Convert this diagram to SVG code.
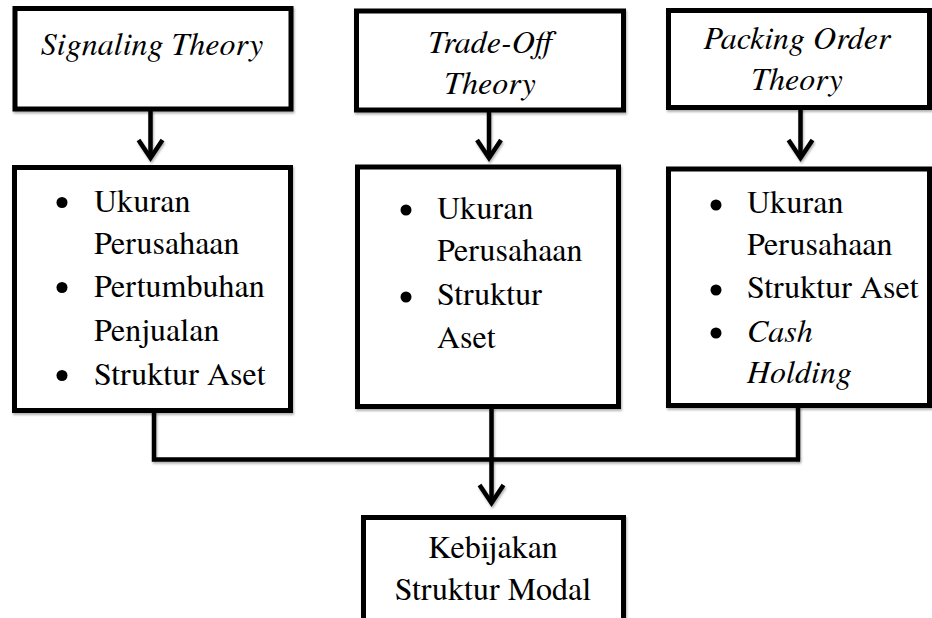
<svg xmlns="http://www.w3.org/2000/svg" width="932" height="618" viewBox="0 0 932 618">
<style>
  .box { fill: #ffffff; stroke: #000000; stroke-width: 5; filter: url(#sh); }
  .t { font-family: 'TeX Gyre Termes', 'FreeSerif', 'Liberation Serif', 'Times New Roman', serif; font-size: 32px; fill: #000000; }
  .i { font-style: italic; }
  .c { text-anchor: middle; }
  .bul { fill: #000000; }
  .wire { fill: none; stroke: #000000; stroke-width: 4.5; filter: url(#sh); }
</style>
<defs>
  <filter id="sh" filterUnits="userSpaceOnUse" x="0" y="0" width="932" height="618">
    <feDropShadow dx="1" dy="2" stdDeviation="1.2" flood-color="#000000" flood-opacity="0.3"/>
  </filter>
  <marker id="chev" markerUnits="userSpaceOnUse" viewBox="-30 -20 40 40" markerWidth="40" markerHeight="40" refX="0" refY="0" orient="auto" overflow="visible">
    <path d="M-18,-12 L0,0 L-18,12" fill="none" stroke="#000000" stroke-width="4.5" stroke-linejoin="miter"/>
  </marker>
</defs>
<rect width="932" height="618" fill="#ffffff"/>

<g id="connectors">
  <path class="wire" d="M150.5,110 V158" marker-end="url(#chev)"/>
  <path class="wire" d="M489,112 V158" marker-end="url(#chev)"/>
  <path class="wire" d="M800.5,108 V158" marker-end="url(#chev)"/>
  <path class="wire" d="M154,411 V459.5 H800"/>
  <path class="wire" d="M798,406 V459.5"/>
  <path class="wire" d="M491.5,407 V503" marker-end="url(#chev)"/>
</g>

<g id="signaling">
  <rect class="box" x="15" y="8.5" width="276" height="100.5"/>
  <text class="t i c" x="152" y="55">Signaling Theory</text>
</g>
<g id="tradeoff">
  <rect class="box" x="356.5" y="11" width="267" height="99"/>
  <text class="t i c" x="490" y="53">Trade-Off</text>
  <text class="t i c" x="490" y="94">Theory</text>
</g>
<g id="packing">
  <rect class="box" x="668.5" y="10.5" width="261" height="97"/>
  <text class="t i c" x="797" y="49">Packing Order</text>
  <text class="t i c" x="797" y="90">Theory</text>
</g>

<g id="signaling-vars">
  <rect class="box" x="14.5" y="167.5" width="276" height="243"/>
  <circle class="bul" cx="62" cy="202.5" r="5.5"/>
  <text class="t" x="94" y="212">Ukuran</text>
  <text class="t" x="94" y="254">Perusahaan</text>
  <circle class="bul" cx="62" cy="287.5" r="5.5"/>
  <text class="t" x="94" y="297">Pertumbuhan</text>
  <text class="t" x="94" y="341">Penjualan</text>
  <circle class="bul" cx="62" cy="375.5" r="5.5"/>
  <text class="t" x="94" y="385">Struktur Aset</text>
</g>
<g id="tradeoff-vars">
  <rect class="box" x="357.5" y="167" width="261" height="239.5"/>
  <circle class="bul" cx="406" cy="210" r="5.5"/>
  <text class="t" x="437" y="219">Ukuran</text>
  <text class="t" x="437" y="261">Perusahaan</text>
  <circle class="bul" cx="406" cy="297" r="5.5"/>
  <text class="t" x="437" y="305">Struktur</text>
  <text class="t" x="437" y="348">Aset</text>
</g>
<g id="packing-vars">
  <rect class="box" x="668.5" y="169" width="261" height="236.5"/>
  <circle class="bul" cx="716" cy="205" r="5.5"/>
  <text class="t" x="747" y="213">Ukuran</text>
  <text class="t" x="747" y="255">Perusahaan</text>
  <circle class="bul" cx="716" cy="290" r="5.5"/>
  <text class="t" x="747" y="298">Struktur Aset</text>
  <circle class="bul" cx="716" cy="333" r="5.5"/>
  <text class="t i" x="747" y="342">Cash</text>
  <text class="t i" x="747" y="383">Holding</text>
</g>

<g id="kebijakan">
  <rect class="box" x="363.5" y="517.5" width="260" height="120"/>
  <text class="t c" x="493" y="558">Kebijakan</text>
  <text class="t c" x="493" y="600">Struktur Modal</text>
</g>
</svg>
